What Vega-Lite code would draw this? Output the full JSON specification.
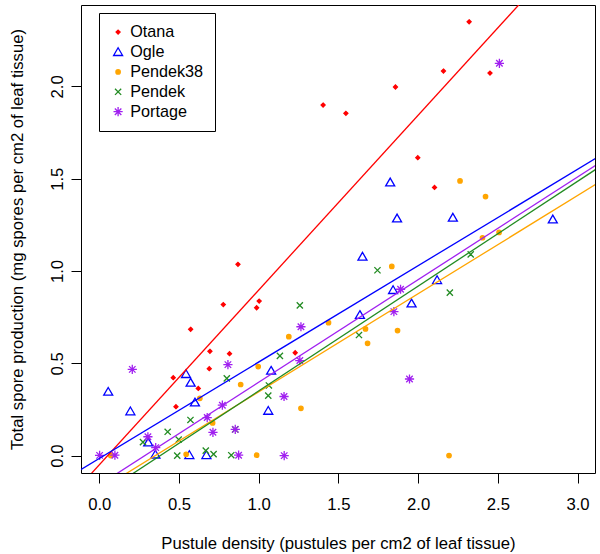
{
  "$schema": "https://vega.github.io/schema/vega-lite/v6.json",
  "width": 514,
  "height": 468,
  "autosize": {"type": "none"},
  "padding": {"left": 81, "top": 5, "right": 5, "bottom": 81},
  "background": "white",
  "config": {
    "font": "Liberation Sans",
    "view": {"stroke": "black", "strokeWidth": 1},
    "axis": {
      "grid": false,
      "domain": false,
      "tickSize": 10,
      "tickColor": "black",
      "tickWidth": 1,
      "labelFont": "Liberation Sans",
      "labelFontSize": 16.7,
      "labelColor": "black",
      "labelFlush": false,
      "labelOverlap": false,
      "titleFont": "Liberation Sans",
      "titleFontSize": 16.7,
      "titleFontWeight": "normal",
      "titleColor": "black"
    }
  },
  "datasets": {
    "points": [
      {"cultivar": "Otana", "density": 2.32, "spores": 2.35},
      {"cultivar": "Otana", "density": 1.547, "spores": 1.854},
      {"cultivar": "Otana", "density": 1.858, "spores": 1.997},
      {"cultivar": "Otana", "density": 2.159, "spores": 2.083},
      {"cultivar": "Otana", "density": 2.451, "spores": 2.072},
      {"cultivar": "Otana", "density": 1.998, "spores": 1.614},
      {"cultivar": "Otana", "density": 2.103, "spores": 1.453},
      {"cultivar": "Otana", "density": 1.404, "spores": 1.899},
      {"cultivar": "Otana", "density": 0.87, "spores": 1.036},
      {"cultivar": "Otana", "density": 0.778, "spores": 0.818},
      {"cultivar": "Otana", "density": 1.003, "spores": 0.837},
      {"cultivar": "Otana", "density": 0.987, "spores": 0.801},
      {"cultivar": "Otana", "density": 0.573, "spores": 0.684},
      {"cultivar": "Otana", "density": 0.694, "spores": 0.565},
      {"cultivar": "Otana", "density": 0.817, "spores": 0.552},
      {"cultivar": "Otana", "density": 0.69, "spores": 0.471},
      {"cultivar": "Otana", "density": 0.464, "spores": 0.422},
      {"cultivar": "Otana", "density": 0.621, "spores": 0.364},
      {"cultivar": "Otana", "density": 1.229, "spores": 0.557},
      {"cultivar": "Otana", "density": 0.481, "spores": 0.265},
      {"cultivar": "Ogle", "density": 0.056, "spores": 0.346},
      {"cultivar": "Ogle", "density": 0.195, "spores": 0.24},
      {"cultivar": "Ogle", "density": 0.307, "spores": 0.072},
      {"cultivar": "Ogle", "density": 0.352, "spores": 0.006},
      {"cultivar": "Ogle", "density": 0.544, "spores": 0.442},
      {"cultivar": "Ogle", "density": 0.573, "spores": 0.395},
      {"cultivar": "Ogle", "density": 0.6, "spores": 0.288},
      {"cultivar": "Ogle", "density": 0.565, "spores": 0.003},
      {"cultivar": "Ogle", "density": 0.672, "spores": 0.003},
      {"cultivar": "Ogle", "density": 1.078, "spores": 0.46},
      {"cultivar": "Ogle", "density": 1.06, "spores": 0.243},
      {"cultivar": "Ogle", "density": 1.868, "spores": 1.285},
      {"cultivar": "Ogle", "density": 2.218, "spores": 1.289},
      {"cultivar": "Ogle", "density": 2.845, "spores": 1.28},
      {"cultivar": "Ogle", "density": 1.651, "spores": 1.078},
      {"cultivar": "Ogle", "density": 1.843, "spores": 0.897},
      {"cultivar": "Ogle", "density": 2.119, "spores": 0.951},
      {"cultivar": "Ogle", "density": 1.959, "spores": 0.825},
      {"cultivar": "Ogle", "density": 1.635, "spores": 0.762},
      {"cultivar": "Ogle", "density": 1.825, "spores": 1.48},
      {"cultivar": "Pendek38", "density": 0.072, "spores": 0.0},
      {"cultivar": "Pendek38", "density": 0.545, "spores": 0.007},
      {"cultivar": "Pendek38", "density": 0.631, "spores": 0.31},
      {"cultivar": "Pendek38", "density": 0.711, "spores": 0.177},
      {"cultivar": "Pendek38", "density": 0.887, "spores": 0.385},
      {"cultivar": "Pendek38", "density": 0.987, "spores": 0.002},
      {"cultivar": "Pendek38", "density": 0.997, "spores": 0.482},
      {"cultivar": "Pendek38", "density": 1.189, "spores": 0.644},
      {"cultivar": "Pendek38", "density": 1.265, "spores": 0.256},
      {"cultivar": "Pendek38", "density": 1.438, "spores": 0.72},
      {"cultivar": "Pendek38", "density": 1.835, "spores": 1.025},
      {"cultivar": "Pendek38", "density": 1.67, "spores": 0.686},
      {"cultivar": "Pendek38", "density": 1.683, "spores": 0.608},
      {"cultivar": "Pendek38", "density": 1.871, "spores": 0.677},
      {"cultivar": "Pendek38", "density": 2.404, "spores": 1.18},
      {"cultivar": "Pendek38", "density": 2.508, "spores": 1.209},
      {"cultivar": "Pendek38", "density": 2.263, "spores": 1.488},
      {"cultivar": "Pendek38", "density": 2.423, "spores": 1.403},
      {"cultivar": "Pendek38", "density": 2.194, "spores": 0.0},
      {"cultivar": "Pendek", "density": 0.274, "spores": 0.073},
      {"cultivar": "Pendek", "density": 0.429, "spores": 0.129},
      {"cultivar": "Pendek", "density": 0.498, "spores": 0.087},
      {"cultivar": "Pendek", "density": 0.572, "spores": 0.193},
      {"cultivar": "Pendek", "density": 0.489, "spores": 0.0},
      {"cultivar": "Pendek", "density": 0.668, "spores": 0.027},
      {"cultivar": "Pendek", "density": 0.717, "spores": 0.008},
      {"cultivar": "Pendek", "density": 0.828, "spores": 0.002},
      {"cultivar": "Pendek", "density": 0.853, "spores": 0.142},
      {"cultivar": "Pendek", "density": 0.8, "spores": 0.418},
      {"cultivar": "Pendek", "density": 1.133, "spores": 0.54},
      {"cultivar": "Pendek", "density": 1.064, "spores": 0.38},
      {"cultivar": "Pendek", "density": 1.06, "spores": 0.325},
      {"cultivar": "Pendek", "density": 1.629, "spores": 0.653},
      {"cultivar": "Pendek", "density": 1.258, "spores": 0.814},
      {"cultivar": "Pendek", "density": 1.745, "spores": 1.004},
      {"cultivar": "Pendek", "density": 2.33, "spores": 1.09},
      {"cultivar": "Pendek", "density": 2.199, "spores": 0.883},
      {"cultivar": "Portage", "density": 0.002, "spores": 0.001},
      {"cultivar": "Portage", "density": 0.098, "spores": 0.002},
      {"cultivar": "Portage", "density": 0.305, "spores": 0.102},
      {"cultivar": "Portage", "density": 0.354, "spores": 0.043},
      {"cultivar": "Portage", "density": 0.772, "spores": 0.273},
      {"cultivar": "Portage", "density": 0.677, "spores": 0.206},
      {"cultivar": "Portage", "density": 0.713, "spores": 0.126},
      {"cultivar": "Portage", "density": 0.853, "spores": 0.142},
      {"cultivar": "Portage", "density": 0.874, "spores": 0.002},
      {"cultivar": "Portage", "density": 0.207, "spores": 0.467},
      {"cultivar": "Portage", "density": 0.807, "spores": 0.493},
      {"cultivar": "Portage", "density": 1.265, "spores": 0.698},
      {"cultivar": "Portage", "density": 1.258, "spores": 0.515},
      {"cultivar": "Portage", "density": 1.159, "spores": 0.32},
      {"cultivar": "Portage", "density": 1.16, "spores": 0.0},
      {"cultivar": "Portage", "density": 1.89, "spores": 0.901},
      {"cultivar": "Portage", "density": 1.848, "spores": 0.78},
      {"cultivar": "Portage", "density": 1.946, "spores": 0.415},
      {"cultivar": "Portage", "density": 2.51, "spores": 2.125}
    ],
    "lines": [
      {"cultivar": "Otana", "density": -0.2, "spores": -0.2394},
      {"cultivar": "Otana", "density": 3.2, "spores": 2.98},
      {"cultivar": "Ogle", "density": -0.2, "spores": -0.1194},
      {"cultivar": "Ogle", "density": 3.2, "spores": 1.655},
      {"cultivar": "Pendek38", "density": -0.2, "spores": -0.2934},
      {"cultivar": "Pendek38", "density": 3.2, "spores": 1.515},
      {"cultivar": "Pendek", "density": -0.2, "spores": -0.3305},
      {"cultivar": "Pendek", "density": 3.2, "spores": 1.599},
      {"cultivar": "Portage", "density": -0.2, "spores": -0.2702},
      {"cultivar": "Portage", "density": 3.2, "spores": 1.62}
    ]
  },
  "layer": [
    {
      "data": {"name": "points"},
      "mark": {"type": "point", "size": 100, "strokeWidth": 1.3, "opacity": 1},
      "encoding": {
        "x": {
          "field": "density", "type": "quantitative",
          "scale": {"domain": [-0.1147, 3.1097], "nice": false, "zero": false},
          "axis": {
            "values": [0, 0.5, 1, 1.5, 2, 2.5, 3], "format": ".1f",
            "labelPadding": 13,
            "title": "Pustule density (pustules per cm2 of leaf tissue)",
            "titlePadding": 23
          }
        },
        "y": {
          "field": "spores", "type": "quantitative",
          "scale": {"domain": [-0.0943, 2.441], "nice": false, "zero": false},
          "axis": {
            "values": [0, 0.5, 1, 1.5, 2], "format": ".1f",
            "labelAngle": 270, "labelAlign": "center", "labelBaseline": "alphabetic",
            "labelPadding": 9,
            "title": "Total spore production (mg spores per cm2 of leaf tissue)",
            "titlePadding": 23
          }
        },
        "stroke": {
          "field": "cultivar", "type": "nominal",
          "scale": {"domain": ["Otana", "Ogle", "Pendek38", "Pendek", "Portage"], "range": ["#FF0000", "#0000FF", "#FFA500", "#228B22", "#A020F0"]}
        },
        "fill": {
          "field": "cultivar", "type": "nominal",
          "scale": {"domain": ["Otana", "Ogle", "Pendek38", "Pendek", "Portage"], "range": ["#FF0000", "transparent", "#FFA500", "transparent", "transparent"]}
        },
        "shape": {
          "field": "cultivar", "type": "nominal",
          "scale": {"domain": ["Otana", "Ogle", "Pendek38", "Pendek", "Portage"], "range": [
            "M0,-0.4L0.4,0L0,0.4L-0.4,0Z",
            "M0,-0.85L0.9,0.7L-0.9,0.7Z",
            "M0.44,0A0.44,0.44,0,1,1,-0.44,0A0.44,0.44,0,1,1,0.44,0Z",
            "M-0.62,-0.62L0.62,0.62M-0.62,0.62L0.62,-0.62",
            "M-0.92,0L0.92,0M0,-0.92L0,0.92M-0.65,-0.65L0.65,0.65M-0.65,0.65L0.65,-0.65"
          ]},
          "legend": {
            "title": null,
            "orient": "none",
            "legendX": 18,
            "legendY": 8,
            "strokeColor": "black",
            "fillColor": "white",
            "padding": 11,
            "labelFont": "Liberation Sans",
            "labelFontSize": 16.2,
            "labelColor": "black",
            "labelOffset": 4,
            "symbolSize": 100,
            "symbolStrokeWidth": 1.3,
            "rowPadding": 2.9
          }
        }
      }
    },
    {
      "data": {"name": "lines"},
      "mark": {"type": "line", "strokeWidth": 1.3, "clip": true},
      "encoding": {
        "x": {"field": "density", "type": "quantitative"},
        "y": {"field": "spores", "type": "quantitative"},
        "stroke": {"field": "cultivar", "type": "nominal", "legend": null}
      }
    }
  ]
}
